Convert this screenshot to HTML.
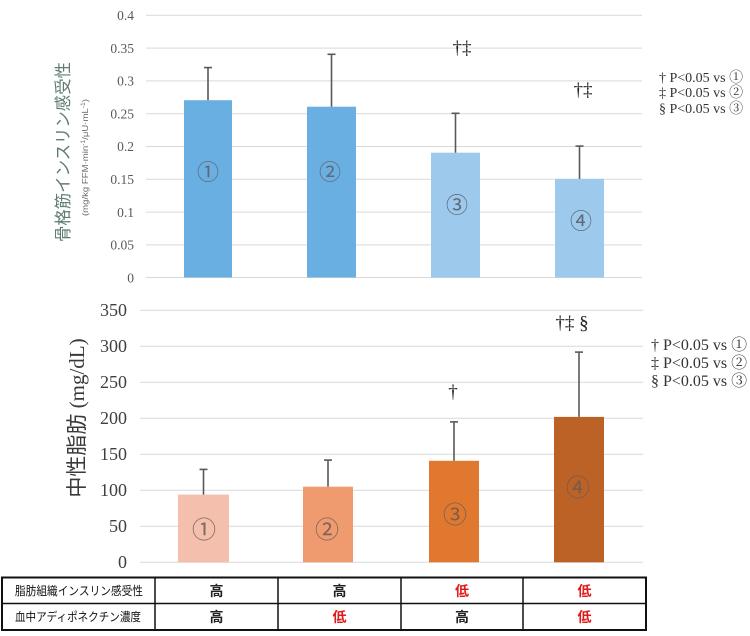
<!DOCTYPE html>
<html>
<head>
<meta charset="utf-8">
<style>
html,body{margin:0;padding:0;background:#fff;}
body{width:750px;height:636px;overflow:hidden;}
svg{display:block;}
.tk{font-family:"Liberation Serif","Noto Serif CJK SC",serif;}
.cj{font-family:"Liberation Sans","Noto Sans CJK JP",sans-serif;}
</style>
</head>
<body>
<svg width="750" height="636" viewBox="0 0 750 636" xmlns="http://www.w3.org/2000/svg">
<rect width="750" height="636" fill="#fff"/>

<!-- ===== TOP CHART ===== -->
<g stroke="#d9d9d9" stroke-width="1">
<line x1="146" y1="15.3" x2="642" y2="15.3"/>
<line x1="146" y1="48.1" x2="642" y2="48.1"/>
<line x1="146" y1="80.9" x2="642" y2="80.9"/>
<line x1="146" y1="113.7" x2="642" y2="113.7"/>
<line x1="146" y1="146.5" x2="642" y2="146.5"/>
<line x1="146" y1="179.3" x2="642" y2="179.3"/>
<line x1="146" y1="212.1" x2="642" y2="212.1"/>
<line x1="146" y1="244.9" x2="642" y2="244.9"/>
<line x1="146" y1="277.5" x2="642" y2="277.5"/>
</g>
<g class="tk" font-size="13.5" fill="#595959" text-anchor="end">
<text x="134" y="20">0.4</text>
<text x="134" y="52.8">0.35</text>
<text x="134" y="85.6">0.3</text>
<text x="134" y="118.4">0.25</text>
<text x="134" y="151.2">0.2</text>
<text x="134" y="184">0.15</text>
<text x="134" y="216.8">0.1</text>
<text x="134" y="249.6">0.05</text>
<text x="134" y="282.3">0</text>
</g>
<!-- bars -->
<rect x="184" y="100.2" width="48" height="177.3" fill="#6aafe2"/>
<rect x="307" y="106.7" width="49" height="170.8" fill="#6aafe2"/>
<rect x="431" y="152.7" width="49" height="124.8" fill="#9dc9ec"/>
<rect x="555" y="178.9" width="49" height="98.6" fill="#9dc9ec"/>
<!-- error bars -->
<g stroke="#595959" stroke-width="1.6">
<line x1="208" y1="100.2" x2="208" y2="67.6"/><line x1="204" y1="67.6" x2="212" y2="67.6"/>
<line x1="331.5" y1="106.7" x2="331.5" y2="54.3"/><line x1="327.5" y1="54.3" x2="335.5" y2="54.3"/>
<line x1="455.5" y1="152.7" x2="455.5" y2="113.3"/><line x1="451.5" y1="113.3" x2="459.5" y2="113.3"/>
<line x1="579.5" y1="178.9" x2="579.5" y2="146.1"/><line x1="575.5" y1="146.1" x2="583.5" y2="146.1"/>
</g>
<g class="cj" font-size="22" fill="#5e6a75" text-anchor="middle">
<text x="208" y="180">①</text>
<text x="330" y="180">②</text>
<text x="457" y="213">③</text>
<text x="581" y="229">④</text>
</g>
<g class="tk" font-size="19" fill="#222" text-anchor="middle">
<text x="462" y="54">†‡</text>
<text x="583" y="96">†‡</text>
</g>
<g class="tk" font-size="14" fill="#333">
<text x="659" y="82">† P&lt;0.05 vs ①</text>
<text x="659" y="97">‡ P&lt;0.05 vs ②</text>
<text x="659" y="113">§ P&lt;0.05 vs ③</text>
</g>
<!-- y title top -->
<g transform="translate(63,152) rotate(-90)">
<text class="cj" x="-90" y="6" font-size="17" fill="#5f7b74" textLength="180" lengthAdjust="spacingAndGlyphs">骨格筋インスリン感受性</text>
</g>
<g transform="translate(85,158) rotate(-90)">
<text class="cj" x="-58" y="3" font-size="8.5" fill="#6b6b6b" textLength="117" lengthAdjust="spacingAndGlyphs">(mg/kg FFM·min<tspan font-size="6" dy="-3">-1</tspan><tspan dy="3">/μU·mL</tspan><tspan font-size="6" dy="-3">-1</tspan><tspan dy="3">)</tspan></text>
</g>

<!-- ===== BOTTOM CHART ===== -->
<g stroke="#d9d9d9" stroke-width="1">
<line x1="140" y1="310.3" x2="643" y2="310.3"/>
<line x1="140" y1="346.3" x2="643" y2="346.3"/>
<line x1="140" y1="382.3" x2="643" y2="382.3"/>
<line x1="140" y1="418.3" x2="643" y2="418.3"/>
<line x1="140" y1="454.3" x2="643" y2="454.3"/>
<line x1="140" y1="490.3" x2="643" y2="490.3"/>
<line x1="140" y1="526.3" x2="643" y2="526.3"/>
<line x1="140" y1="562.3" x2="643" y2="562.3"/>
</g>
<g class="tk" font-size="18" fill="#404040" text-anchor="end">
<text x="127" y="316">350</text>
<text x="127" y="352">300</text>
<text x="127" y="388">250</text>
<text x="127" y="424">200</text>
<text x="127" y="460">150</text>
<text x="127" y="496">100</text>
<text x="127" y="532">50</text>
<text x="127" y="568">0</text>
</g>
<rect x="178" y="494.6" width="51" height="67.7" fill="#f4bfad"/>
<rect x="303" y="486.7" width="50" height="75.6" fill="#f09a6f"/>
<rect x="429" y="460.8" width="50" height="101.5" fill="#e0782f"/>
<rect x="554" y="416.9" width="50" height="145.4" fill="#bd6226"/>
<g stroke="#595959" stroke-width="1.6">
<line x1="203.5" y1="494.6" x2="203.5" y2="469.4"/><line x1="199.5" y1="469.4" x2="207.5" y2="469.4"/>
<line x1="328" y1="486.7" x2="328" y2="460.1"/><line x1="324" y1="460.1" x2="332" y2="460.1"/>
<line x1="454" y1="460.8" x2="454" y2="421.9"/><line x1="450" y1="421.9" x2="458" y2="421.9"/>
<line x1="579" y1="416.9" x2="579" y2="352.1"/><line x1="575" y1="352.1" x2="583" y2="352.1"/>
</g>
<g class="cj" font-size="24" fill="#6a5a55" fill-opacity="0.85" text-anchor="middle">
<text x="204" y="538">①</text>
<text x="327" y="538">②</text>
<text x="455" y="523">③</text>
<text x="578" y="496">④</text>
</g>
<g class="tk" font-size="19" fill="#222" text-anchor="middle">
<text x="572" y="329">†‡ §</text>
<text x="453" y="398">†</text>
</g>
<g class="tk" font-size="16" fill="#333">
<text x="651" y="350">† P&lt;0.05 vs ①</text>
<text x="651" y="368">‡ P&lt;0.05 vs ②</text>
<text x="651" y="386">§ P&lt;0.05 vs ③</text>
</g>
<g transform="translate(77,418) rotate(-90)">
<text class="tk" x="0" y="7" font-size="21" fill="#3a3a3a" text-anchor="middle"><tspan font-family="Noto Sans CJK JP">中性脂肪</tspan> (mg/dL)</text>
</g>

<!-- ===== TABLE ===== -->
<g stroke="#111" fill="none">
<rect x="2" y="577.5" width="644" height="52.5" stroke-width="2"/>
<line x1="2" y1="603.5" x2="646" y2="603.5" stroke-width="1.5"/>
<line x1="155" y1="577.5" x2="155" y2="630" stroke-width="1.5"/>
<line x1="278" y1="577.5" x2="278" y2="630" stroke-width="1.5"/>
<line x1="401" y1="577.5" x2="401" y2="630" stroke-width="1.5"/>
<line x1="523" y1="577.5" x2="523" y2="630" stroke-width="1.5"/>
</g>
<g class="cj" font-size="12" fill="#111">
<text x="15" y="595" textLength="128" lengthAdjust="spacingAndGlyphs">脂肪組織インスリン感受性</text>
<text x="15" y="621" textLength="126" lengthAdjust="spacingAndGlyphs">血中アディポネクチン濃度</text>
</g>
<g class="cj" font-size="14" font-weight="bold" text-anchor="middle">
<text x="216.5" y="596" fill="#222">高</text>
<text x="339.5" y="596" fill="#222">高</text>
<text x="462" y="596" fill="#e01b1b">低</text>
<text x="584.5" y="596" fill="#e01b1b">低</text>
<text x="216.5" y="622" fill="#222">高</text>
<text x="339.5" y="622" fill="#e01b1b">低</text>
<text x="462" y="622" fill="#222">高</text>
<text x="584.5" y="622" fill="#e01b1b">低</text>
</g>
</svg>
</body>
</html>
